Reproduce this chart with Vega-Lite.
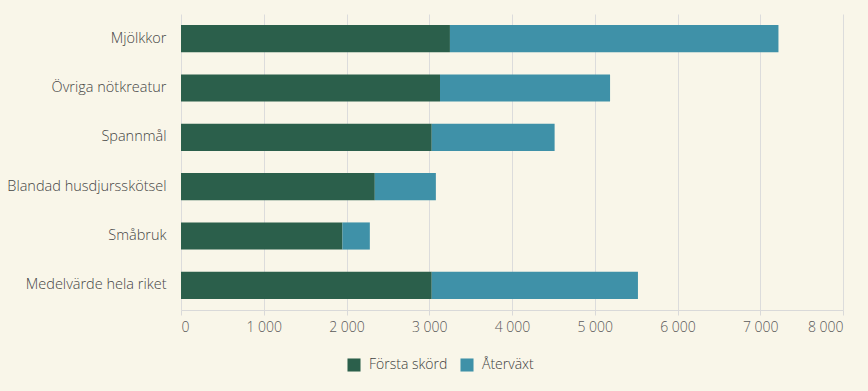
{
  "$schema": "https://vega.github.io/schema/vega-lite/v6.json",
  "width": 662,
  "height": 296,
  "autosize": "none",
  "padding": {"left": 181, "top": 14, "right": 25, "bottom": 81},
  "background": "#f9f6e9",
  "config": {
    "view": {"stroke": null},
    "font": "Open Sans",
    "axis": {"labelFont": "Open Sans", "labelColor": "#454545", "labelFontSize": 14, "labelFontWeight": 300, "titleFont": "Open Sans"},
    "legend": {"labelFont": "Open Sans", "labelColor": "#404040", "labelFontSize": 14, "labelFontWeight": 300}
  },
  "data": {
    "values": [
      {"kategori": "Mjölkkor", "typ": "Första skörd", "ordning": 1, "varde": 3250},
      {"kategori": "Mjölkkor", "typ": "Återväxt", "ordning": 2, "varde": 3970},
      {"kategori": "Övriga nötkreatur", "typ": "Första skörd", "ordning": 1, "varde": 3130},
      {"kategori": "Övriga nötkreatur", "typ": "Återväxt", "ordning": 2, "varde": 2055},
      {"kategori": "Spannmål", "typ": "Första skörd", "ordning": 1, "varde": 3030},
      {"kategori": "Spannmål", "typ": "Återväxt", "ordning": 2, "varde": 1485},
      {"kategori": "Blandad husdjursskötsel", "typ": "Första skörd", "ordning": 1, "varde": 2342},
      {"kategori": "Blandad husdjursskötsel", "typ": "Återväxt", "ordning": 2, "varde": 738},
      {"kategori": "Småbruk", "typ": "Första skörd", "ordning": 1, "varde": 1951},
      {"kategori": "Småbruk", "typ": "Återväxt", "ordning": 2, "varde": 331},
      {"kategori": "Medelvärde hela riket", "typ": "Första skörd", "ordning": 1, "varde": 3030},
      {"kategori": "Medelvärde hela riket", "typ": "Återväxt", "ordning": 2, "varde": 2492}
    ]
  },
  "mark": {"type": "bar"},
  "encoding": {
    "y": {
      "field": "kategori",
      "type": "nominal",
      "sort": ["Mjölkkor", "Övriga nötkreatur", "Spannmål", "Blandad husdjursskötsel", "Småbruk", "Medelvärde hela riket"],
      "scale": {"paddingInner": 0.45, "paddingOuter": 0.225},
      "axis": {"title": null, "domain": false, "ticks": false, "labelPadding": 15, "grid": false, "labelFontSize": 14.5}
    },
    "x": {
      "field": "varde",
      "type": "quantitative",
      "stack": "zero",
      "scale": {"domain": [0, 8000], "nice": false},
      "axis": {
        "title": null,
        "values": [0, 1000, 2000, 3000, 4000, 5000, 6000, 7000, 8000],
        "labelExpr": "replace(format(datum.value, ',d'), ',', ' ')",
        "labelColor": "#595959",
        "grid": true,
        "gridColor": "#dcdcdc",
        "domainColor": "#d9d9d9",
        "tickColor": "#d9d9d9",
        "tickSize": 5,
        "labelPadding": 5
      }
    },
    "order": {"field": "ordning", "type": "quantitative"},
    "color": {
      "field": "typ",
      "type": "nominal",
      "scale": {"domain": ["Första skörd", "Återväxt"], "range": ["#2b5f4b", "#3f91a8"]},
      "legend": {
        "title": null,
        "orient": "none",
        "legendX": 166,
        "legendY": 344,
        "direction": "horizontal",
        "symbolType": "square",
        "symbolSize": 170,
        "symbolStrokeWidth": 0,
        "columnPadding": 12,
        "labelOffset": 8
      }
    }
  }
}
